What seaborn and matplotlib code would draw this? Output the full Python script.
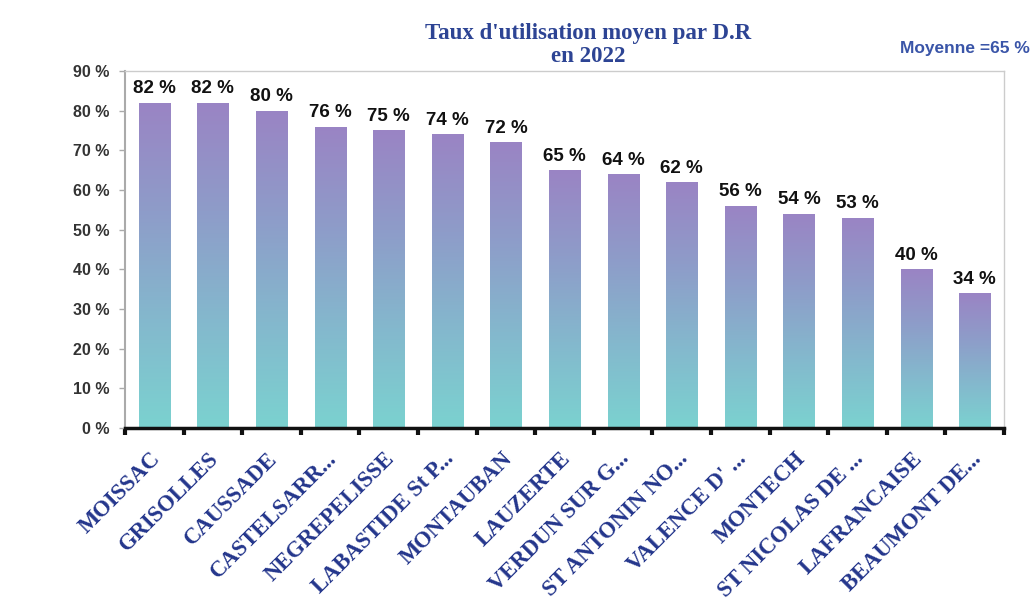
import numpy as np
import pandas as pd
import seaborn as sns
import matplotlib
matplotlib.use("Agg")
import matplotlib.pyplot as plt
from matplotlib.colors import LinearSegmentedColormap
from matplotlib.ticker import FixedLocator
from matplotlib.transforms import ScaledTranslation

# Usage rate per D.R in 2022
sites = ["MOISSAC", "GRISOLLES", "CAUSSADE", "CASTELSARR...", "NEGREPELISSE",
         "LABASTIDE St P...", "MONTAUBAN", "LAUZERTE", "VERDUN SUR G...",
         "ST ANTONIN NO...", "VALENCE D' ...", "MONTECH", "ST NICOLAS DE ...",
         "LAFRANCAISE", "BEAUMONT DE..."]
rates = [82, 82, 80, 76, 75, 74, 72, 65, 64, 62, 56, 54, 53, 40, 34]
y_ticks = [0, 10, 20, 30, 40, 50, 60, 70, 80, 90]
average = 65

df = pd.DataFrame({"site": sites, "rate": rates})

sns.set_theme(style="white")
plt.rcParams["font.family"] = ["Liberation Sans", "DejaVu Sans"]

fig = plt.figure(figsize=(10.34, 6.10), dpi=100)
ax = fig.add_axes([0.1209, 0.2984, 0.971 - 0.1209, 0.8836 - 0.2984])

sns.barplot(data=df, x="site", y="rate", ax=ax, width=0.53,
            color="#8f9bc8", linewidth=0, saturation=1)

# vertical gradient inside each bar: teal at the base, lavender at the top
grad_cmap = LinearSegmentedColormap.from_list(
    "bar_grad", ["#7bd2d0", "#84b8cd", "#8e9cc9", "#9a84c4"])
grad = np.linspace(0, 1, 256).reshape(-1, 1)
for patch in ax.patches:
    x0, y0 = patch.get_x(), patch.get_y()
    w, h = patch.get_width(), patch.get_height()
    im = ax.imshow(grad, cmap=grad_cmap, origin="lower", aspect="auto",
                   extent=[x0, x0 + w, y0, y0 + h], zorder=2)
    im.set_clip_path(patch)
    patch.set_facecolor("none")

ax.set_xlim(-0.5, len(sites) - 0.5)
ax.set_ylim(0, 90)

# value labels above bars
for i, v in enumerate(rates):
    ax.text(i, v + 1.4, f"{v} %", ha="center", va="bottom",
            fontsize=13.5, fontweight="bold", color="#111111", zorder=3)

# y axis
ax.yaxis.set_major_locator(FixedLocator(y_ticks))
ax.set_yticklabels([f"{t} %" for t in y_ticks])
ax.tick_params(axis="y", which="major", left=True, length=4, width=1,
               color="#aaaaaa", pad=7, labelsize=11.5, labelcolor="#333333")
for lab in ax.get_yticklabels():
    lab.set_fontweight("bold")

# x axis: thick baseline with ticks between categories
ax.set_xticks(range(len(sites)))
ax.set_xticks(np.arange(-0.5, len(sites), 1.0), minor=True)
ax.tick_params(axis="x", which="major", bottom=False, length=0, pad=20)
ax.tick_params(axis="x", which="minor", bottom=True, length=5, width=3,
               color="#111111", direction="out")
ax.set_xticklabels(sites, rotation=45, ha="right", va="center",
                   rotation_mode="anchor", fontsize=16.3, fontweight="bold",
                   color="#24368c", family=["Liberation Serif", "DejaVu Serif"])
offset = ScaledTranslation(3 / 100, 0, fig.dpi_scale_trans)
for lab in ax.get_xticklabels():
    lab.set_transform(lab.get_transform() + offset)

ax.set_xlabel("")
ax.set_ylabel("")

for side in ["top", "right"]:
    ax.spines[side].set_visible(True)
    ax.spines[side].set_color("#cccccc")
    ax.spines[side].set_linewidth(1)
ax.spines["left"].set_color("#aaaaaa")
ax.spines["left"].set_linewidth(1.5)
ax.spines["bottom"].set_color("#111111")
ax.spines["bottom"].set_linewidth(2.5)
ax.spines["bottom"].set_zorder(4)

# titles
fig.text(588 / 1034, 1 - 45 / 610, "Taux d'utilisation moyen par D.R\nen 2022",
         ha="center", va="center", fontsize=16.5, fontweight="bold",
         color="#2d4494", family=["Liberation Serif", "DejaVu Serif"],
         linespacing=1.12)
fig.text(1030 / 1034, 1 - 48 / 610, f"Moyenne ={average} %", ha="right",
         va="center", fontsize=12.5, fontweight="bold", color="#3a55a8")

fig.savefig("out.png", dpi=100, facecolor="white")
